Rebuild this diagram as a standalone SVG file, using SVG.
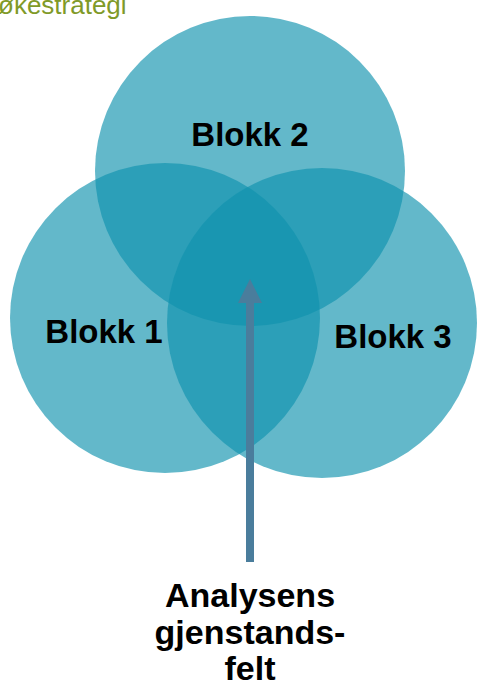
<svg xmlns="http://www.w3.org/2000/svg" width="477" height="687" viewBox="0 0 477 687">
<defs>
<style>
.c{fill:rgb(15,146,174);fill-opacity:0.65}
.t{font-family:"Liberation Sans",Arial,sans-serif;font-weight:bold;fill:#000;text-anchor:middle}
</style>
<marker id="ah" markerWidth="3" markerHeight="3" refX="0" refY="1.5" orient="auto" markerUnits="strokeWidth"><path d="M0,0 L3,1.5 L0,3 Z" fill="#4a7d9c"/></marker>
</defs>
<rect width="477" height="687" fill="#fff"/>
<text x="-2" y="14" font-family="Liberation Sans,Arial,sans-serif" font-size="26" fill="#7f9a28">økestrategi</text>
<g id="blokk2"><circle class="c" cx="250" cy="171" r="155"/><text class="t" x="250" y="146" font-size="33">Blokk 2</text></g>
<g id="blokk1"><circle class="c" cx="165" cy="318" r="155"/></g>
<g id="blokk3"><circle class="c" cx="322" cy="323" r="155"/></g>
<text class="t" x="104" y="343" font-size="33">Blokk 1</text>
<text class="t" x="393" y="348" font-size="33">Blokk 3</text>
<g id="connectors"><line x1="250" y1="562" x2="250" y2="303" stroke="#4a7d9c" stroke-width="8" marker-end="url(#ah)"/></g>
<g id="analyse"><text class="t" font-size="34"><tspan x="250" y="607">Analysens</tspan><tspan x="250" y="644">gjenstands-</tspan><tspan x="250" y="680">felt</tspan></text></g>
</svg>
